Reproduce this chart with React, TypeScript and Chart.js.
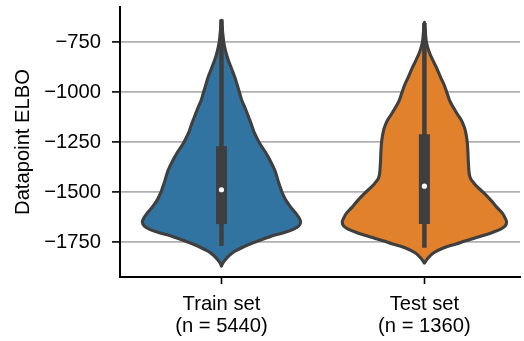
import React, { useEffect, useRef } from "react";
import { Chart, registerables } from "chart.js";

Chart.register(...registerables);

// Groups shown on the x axis
const groups = ["Train set", "Test set"];
const groupCounts = [5440, 1360];

// Violin outlines: ELBO levels (top to bottom) and half-widths in x-axis units
const trainLevels = [
  -640, -680, -720, -755, -800, -840, -880, -925, -965, -1005, -1040, -1080, -1125, -1165,
  -1205, -1255, -1305, -1340, -1375, -1405, -1440, -1470, -1500, -1540, -1575, -1605, -1630,
  -1650, -1670, -1685, -1700, -1715, -1730, -1745, -1760, -1775, -1795, -1815, -1835, -1855, -1870,
];
const trainHalfWidths = [
  0, 0.004, 0.008, 0.012, 0.022, 0.034, 0.049, 0.066, 0.078, 0.09, 0.1, 0.117, 0.134, 0.149,
  0.163, 0.188, 0.22, 0.239, 0.256, 0.268, 0.278, 0.288, 0.298, 0.317, 0.341, 0.366, 0.383,
  0.39, 0.38, 0.356, 0.317, 0.263, 0.22, 0.18, 0.141, 0.107, 0.068, 0.041, 0.022, 0.007, 0,
];

const testLevels = [
  -650, -690, -725, -755, -800, -840, -880, -925, -965, -1005, -1040, -1080, -1115, -1140,
  -1165, -1190, -1240, -1290, -1340, -1390, -1415, -1435, -1455, -1475, -1505, -1540, -1575,
  -1605, -1630, -1650, -1670, -1685, -1700, -1715, -1730, -1745, -1760, -1780, -1805, -1830, -1855,
];
const testHalfWidths = [
  0, 0.004, 0.007, 0.011, 0.024, 0.042, 0.061, 0.08, 0.098, 0.112, 0.124, 0.145, 0.166, 0.182,
  0.193, 0.201, 0.21, 0.214, 0.216, 0.219, 0.222, 0.229, 0.244, 0.262, 0.294, 0.327, 0.356,
  0.384, 0.398, 0.405, 0.398, 0.376, 0.341, 0.298, 0.249, 0.2, 0.156, 0.093, 0.044, 0.018, 0,
];

// Box summary per group
const whiskerLow = [-1770, -1778];
const whiskerHigh = [-636, -653];
const quartile1 = [-1660, -1660];
const quartile3 = [-1270, -1210];
const medians = [-1488, -1470];

// Y axis
const yTicks = [-1750, -1500, -1250, -1000, -750];
const yLabel = "Datapoint ELBO";

const violinLevels = [trainLevels, testLevels];
const violinHalfWidths = [trainHalfWidths, testHalfWidths];
const violinColors = ["#3274a1", "#e1812c"];
const inkColor = "#3f3f3f";
const fontFamily = "'Liberation Sans', Arial, sans-serif";

type Pt = { x: number; y: number };

function splineThrough(ctx: CanvasRenderingContext2D, pts: Pt[], start: boolean) {
  if (start) ctx.moveTo(pts[0].x, pts[0].y);
  else ctx.lineTo(pts[0].x, pts[0].y);
  for (let i = 0; i < pts.length - 1; i++) {
    const p0 = pts[Math.max(i - 1, 0)];
    const p1 = pts[i];
    const p2 = pts[i + 1];
    const p3 = pts[Math.min(i + 2, pts.length - 1)];
    ctx.bezierCurveTo(
      p1.x + (p2.x - p0.x) / 6,
      p1.y + (p2.y - p0.y) / 6,
      p2.x - (p3.x - p1.x) / 6,
      p2.y - (p3.y - p1.y) / 6,
      p2.x,
      p2.y
    );
  }
}

const violinPlugin = {
  id: "violins",
  beforeDatasetsDraw(chart: Chart) {
    const { ctx, scales } = chart;
    const xs = scales.x;
    const ys = scales.y;
    ctx.save();
    groups.forEach((_, gi) => {
      const levels = violinLevels[gi];
      const widths = violinHalfWidths[gi];
      const left: Pt[] = levels.map((v, k) => ({
        x: xs.getPixelForValue(gi - widths[k]),
        y: ys.getPixelForValue(v),
      }));
      const right: Pt[] = levels
        .map((v, k) => ({ x: xs.getPixelForValue(gi + widths[k]), y: ys.getPixelForValue(v) }))
        .reverse();
      ctx.beginPath();
      splineThrough(ctx, left, true);
      splineThrough(ctx, right, false);
      ctx.closePath();
      ctx.fillStyle = violinColors[gi];
      ctx.fill();
      ctx.lineWidth = 3.1;
      ctx.lineJoin = "round";
      ctx.strokeStyle = inkColor;
      ctx.stroke();

      const cx = xs.getPixelForValue(gi);
      // whisker line
      ctx.beginPath();
      ctx.lineCap = "butt";
      ctx.lineWidth = 4.5;
      ctx.moveTo(cx, ys.getPixelForValue(whiskerLow[gi]));
      ctx.lineTo(cx, ys.getPixelForValue(whiskerHigh[gi]));
      ctx.stroke();
      // interquartile box
      ctx.beginPath();
      ctx.lineWidth = 11;
      ctx.moveTo(cx, ys.getPixelForValue(quartile1[gi]));
      ctx.lineTo(cx, ys.getPixelForValue(quartile3[gi]));
      ctx.stroke();
    });
    ctx.restore();
  },
};

const fmt = (v: number) => (v < 0 ? "\u2212" + Math.abs(v) : String(v));

export default function App() {
  const canvasRef = useRef<HTMLCanvasElement | null>(null);

  useEffect(() => {
    document.body.style.margin = "0";
    const canvas = canvasRef.current;
    if (!canvas) return;
    const font = { family: fontFamily, size: 20.2 };
    const chart = new Chart(canvas, {
      type: "scatter",
      data: {
        datasets: [
          {
            data: medians.map((m, i) => ({ x: i, y: m })),
            pointRadius: 2.6,
            pointBackgroundColor: "#ffffff",
            pointBorderWidth: 0,
          },
        ],
      },
      options: {
        animation: false,
        responsive: false,
        devicePixelRatio: 1,
        layout: { padding: { top: 7, right: 0, bottom: 0, left: 0 } },
        plugins: { legend: { display: false }, tooltip: { enabled: false } },
        scales: {
          x: {
            type: "linear",
            min: -0.5,
            max: 1.471,
            afterBuildTicks: (s: any) => {
              s.ticks = groups.map((_, i) => ({ value: i }));
            },
            afterFit: (s: any) => {
              s.height = 64;
              s.paddingLeft = 0;
              s.paddingRight = 0;
            },
            ticks: {
              color: "#000",
              font: { ...font, lineHeight: 1.07 },
              padding: 10,
              maxRotation: 0,
              autoSkip: false,
              callback: (v: any) => [groups[v], `(n = ${groupCounts[v]})`],
            },
            grid: {
              drawOnChartArea: false,
              drawTicks: true,
              tickLength: 7,
              tickColor: "#000",
              tickWidth: 1.6,
            },
            border: { color: "#000", width: 2 },
          },
          y: {
            type: "linear",
            min: -1925,
            max: -573,
            afterBuildTicks: (s: any) => {
              s.ticks = yTicks.map((v) => ({ value: v }));
            },
            afterFit: (s: any) => {
              s.width = 120;
              s.paddingTop = 0;
              s.paddingBottom = 0;
            },
            ticks: {
              color: "#000",
              font,
              padding: 11,
              callback: (v: any) => fmt(Number(v)),
            },
            grid: {
              color: "#b0b0b0",
              lineWidth: 1.8,
              drawTicks: true,
              tickLength: 8,
              tickColor: "#000",
              tickWidth: 1.6,
            },
            border: { color: "#000", width: 2 },
            title: {
              display: true,
              text: yLabel,
              color: "#000",
              font,
              padding: { top: 11, bottom: 0 },
            },
          },
        },
      },
      plugins: [violinPlugin],
    });
    return () => chart.destroy();
  }, []);

  return (
    <div style={{ width: 524, height: 341 }}>
      <canvas ref={canvasRef} width={524} height={341} />
    </div>
  );
}
